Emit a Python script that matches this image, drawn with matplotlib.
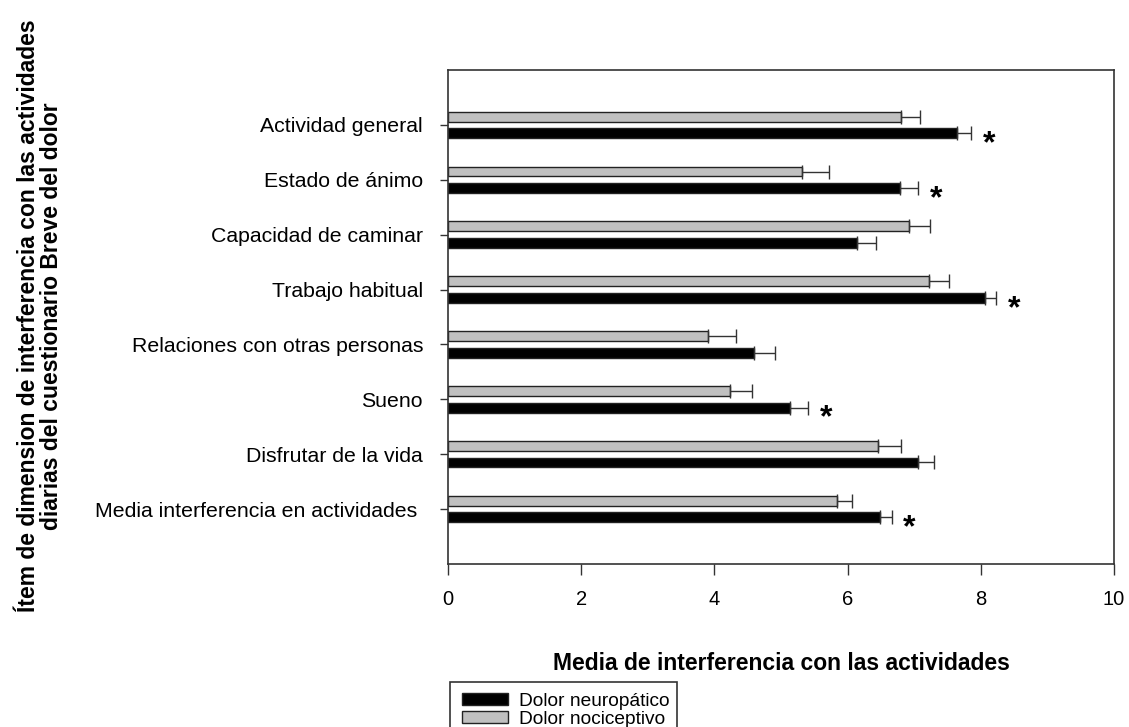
import matplotlib
matplotlib.use("Agg")
import matplotlib.pyplot as plt
from matplotlib.patches import Patch, Rectangle
import numpy as np

plt.rcParams['font.family'] = ['Liberation Sans', 'DejaVu Sans']

items = ["Actividad general", "Estado de ánimo", "Capacidad de caminar", "Trabajo habitual",
         "Relaciones con otras personas", "Sueno", "Disfrutar de la vida",
         "Media interferencia en actividades "]
neuro_mean = [7.65, 6.78, 6.14, 8.06, 4.59, 5.14, 7.06, 6.49]
neuro_err = [0.21, 0.28, 0.28, 0.17, 0.32, 0.27, 0.24, 0.17]
noci_mean = [6.80, 5.32, 6.92, 7.22, 3.90, 4.23, 6.46, 5.84]
noci_err = [0.28, 0.40, 0.31, 0.30, 0.42, 0.33, 0.34, 0.23]
significant = [True, True, False, True, False, True, False, True]

fig = plt.figure(figsize=(11.29, 7.27), dpi=100)
ax = fig.add_axes([448 / 1129, 1 - 564 / 727, 666 / 1129, 494 / 727])

y = np.arange(len(items))
h = 0.18
off = 0.15
edge = "#222222"

ax.barh(y - off, noci_mean, height=h, color="#c0c0c0", edgecolor=edge, linewidth=1.0, zorder=2)
ax.barh(y + off, neuro_mean, height=h, color="black", edgecolor=edge, linewidth=1.0, zorder=2)
ax.errorbar(noci_mean, y - off, xerr=[np.zeros(len(items)), noci_err], fmt="none",
            ecolor="#333333", elinewidth=1.0, capsize=5, capthick=1.0, zorder=3)
ax.errorbar(neuro_mean, y + off, xerr=[np.zeros(len(items)), neuro_err], fmt="none",
            ecolor="#333333", elinewidth=1.0, capsize=5, capthick=1.0, zorder=3)

# asterisks for significant differences
for i, sig in enumerate(significant):
    if sig:
        ax.text(neuro_mean[i] + neuro_err[i] + 0.27, i + off + 0.2, "*", fontsize=23,
                fontweight="bold", ha="center", va="center")

ax.set_xlim(0, 10)
ax.set_ylim(8, -1)
ax.set_xticks([0, 2, 4, 6, 8, 10])
ax.set_yticks(y)
ax.set_yticklabels(items)
ax.tick_params(axis="y", direction="out", length=6, width=1, color="#333333", labelsize=15.3, pad=12)
ax.tick_params(axis="x", direction="out", length=8, width=1, color="#333333", labelsize=14.5, pad=11)
for s in ax.spines.values():
    s.set_linewidth(1.2)
    s.set_color("#333333")

fig.text(781 / 1129, 1 - 664 / 727, "Media de interferencia con las actividades",
         fontsize=16.5, fontweight="bold", ha="center", va="center")
fig.text(40 / 1129, 1 - 316 / 727,
         "Ítem de dimension de interferencia con las actividades\ndiarias del cuestionario Breve del dolor",
         fontsize=16.5, fontweight="bold", rotation=90, ha="center", va="center",
         multialignment="center", linespacing=0.98)

# legend box runs off the bottom edge
fig.patches.append(Rectangle((450 / 1129, -0.1), 227 / 1129, 0.1 + 1 - 682 / 727,
                             transform=fig.transFigure, fill=False, edgecolor="#333333", linewidth=1.2))
handles = [Patch(facecolor="black", edgecolor=edge, label="Dolor neuropático"),
           Patch(facecolor="#c0c0c0", edgecolor=edge, label="Dolor nociceptivo")]
fig.legend(handles=handles, loc="upper left", bbox_to_anchor=(462 / 1129, 1 - 693 / 727),
           frameon=False, fontsize=13.8, handlelength=2.4, handleheight=0.55,
           handletextpad=0.55, labelspacing=0.05, borderaxespad=0, borderpad=0)

fig.savefig("out.png", dpi=100)
